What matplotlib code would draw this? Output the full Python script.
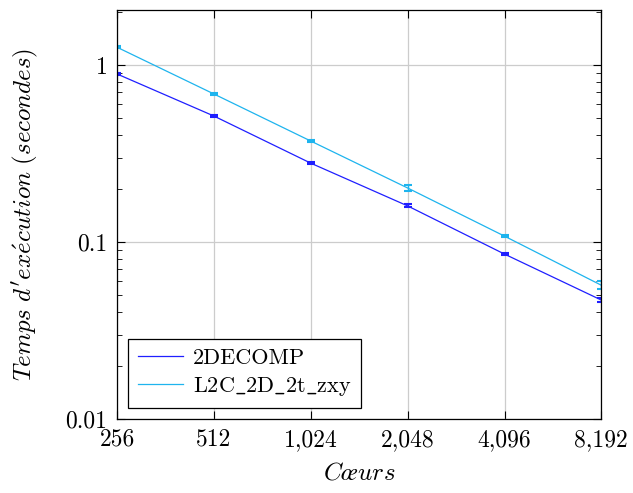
import matplotlib
matplotlib.use('Agg')
import matplotlib.pyplot as plt
from matplotlib.lines import Line2D
from matplotlib.ticker import FixedLocator, NullFormatter, LogLocator

plt.rcParams['font.family'] = 'serif'
plt.rcParams['font.serif'] = ['cmr10', 'DejaVu Serif']
plt.rcParams['mathtext.fontset'] = 'cm'
plt.rcParams['axes.formatter.use_mathtext'] = True

cores = [256, 512, 1024, 2048, 4096, 8192]
core_labels = ['256', '512', '1,024', '2,048', '4,096', '8,192']

decomp = [0.89, 0.515, 0.279, 0.160, 0.0855, 0.047]
decomp_err = [0.01, 0.008, 0.004, 0.003, 0.0012, 0.0012]
l2c = [1.26, 0.686, 0.372, 0.202, 0.108, 0.057]
l2c_err = [0.015, 0.01, 0.006, 0.008, 0.0015, 0.003]

c_decomp = '#1f1fff'
c_l2c = '#1eb4ee'

fig, ax = plt.subplots(figsize=(6.33, 4.93), dpi=100)
fig.subplots_adjust(left=0.185, right=0.95, top=0.98, bottom=0.15)

ax.errorbar(cores, decomp, yerr=decomp_err, color=c_decomp, lw=0.9,
            capsize=3, elinewidth=1, capthick=1.5)
ax.errorbar(cores, l2c, yerr=l2c_err, color=c_l2c, lw=0.9,
            capsize=3, elinewidth=1, capthick=1.5)

ax.set_xscale('log', base=2)
ax.set_yscale('log')
ax.set_xlim(256, 8192)
ax.set_ylim(0.01, 2.05)

ax.xaxis.set_major_locator(FixedLocator(cores))
ax.set_xticklabels(core_labels)
ax.xaxis.set_minor_formatter(NullFormatter())
ax.set_yticks([0.01, 0.1, 1])
ax.set_yticklabels(['0.01', '0.1', '1'])
ax.yaxis.set_minor_locator(LogLocator(base=10, subs=range(2, 10)))
ax.yaxis.set_minor_formatter(NullFormatter())

ax.tick_params(which='both', direction='in', top=True, right=True, labelsize=17)
ax.tick_params(which='major', length=6, pad=7)
ax.tick_params(which='minor', length=3.5)
ax.grid(True, which='major', color='#cccccc', lw=0.9)
for s in ax.spines.values():
    s.set_linewidth(0.9)

ax.set_xlabel(r'$C\oe urs$', fontsize=18, labelpad=8)
ax.set_ylabel(r"$Temps\ d'ex\acute{e}cution\ (secondes)$", fontsize=18, labelpad=18)

handles = [Line2D([], [], color=c_decomp, lw=0.9),
           Line2D([], [], color=c_l2c, lw=0.9)]
labels = ['2DECOMP', r'$\mathrm{L2C\_2D\_2t\_zxy}$']
leg = ax.legend(handles, labels, loc='lower left', fontsize=16, fancybox=False,
                edgecolor='black', framealpha=1, handlelength=2.0,
                handletextpad=0.45, borderaxespad=0.5, labelspacing=0.3,
                borderpad=0.45)
leg.get_frame().set_linewidth(0.9)

plt.savefig('out.png')
